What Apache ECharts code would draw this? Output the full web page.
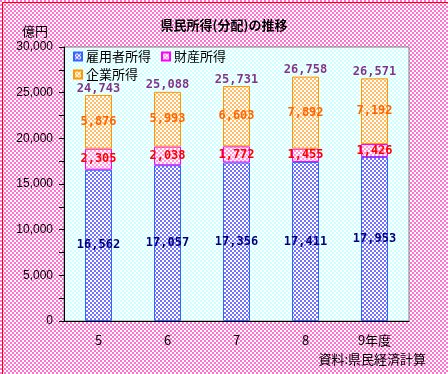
<!DOCTYPE html>
<html><head><meta charset="utf-8">
<script src="https://cdn.jsdelivr.net/npm/echarts@6/dist/echarts.min.js"></script>
<style>html,body{margin:0;padding:0;}#c{width:448px;height:374px;}</style>
</head><body><div id="c"></div>
<script>
const categories = ['5', '6', '7', '8', '9年度'];
const employeeIncome = [16562, 17057, 17356, 17411, 17953];
const propertyIncome = [2305, 2038, 1772, 1455, 1426];
const corporateIncome = [5876, 5993, 6603, 7892, 7192];
const totalIncome = [24743, 25088, 25731, 26758, 26571];
const seriesNames = ['雇用者所得', '財産所得', '企業所得'];

function pat(c1, c2, cell) {
  const cv = document.createElement('canvas');
  cv.width = cell * 2; cv.height = cell * 2;
  const g = cv.getContext('2d');
  g.fillStyle = c2; g.fillRect(0, 0, cell * 2, cell * 2);
  g.fillStyle = c1; g.fillRect(0, 0, cell, cell); g.fillRect(cell, cell, cell, cell);
  return { image: cv, repeat: 'repeat' };
}
const fmt = v => String(v).replace(/\B(?=(\d{3})+(?!\d))/g, ',');
const JP = '"Noto Sans CJK JP", sans-serif';
const NUM = '"DejaVu Sans Mono", monospace';

const chart = echarts.init(document.getElementById('c'), null, { renderer: 'canvas' });
function barSeries(name, data, c1, border, labelColor) {
  return {
    name, type: 'bar', stack: 'total', data, barWidth: 27,
    itemStyle: { color: pat(c1, '#ffffff', 2), borderColor: border, borderWidth: 1 },
    label: { show: true, position: 'inside', color: labelColor, fontFamily: NUM, fontWeight: 'bold', fontSize: 12, formatter: p => fmt(p.value) }
  };
}
chart.setOption({
  backgroundColor: pat('#ff70cf', '#ffffff', 2),
  animation: false,
  title: { text: '県民所得(分配)の推移', left: 'center', top: 14, textStyle: { fontFamily: JP, fontSize: 13, fontWeight: 'bold', color: '#000' } },
  legend: [
    { data: seriesNames.slice(0, 2), left: 68, top: 45, itemWidth: 8, itemHeight: 8, itemGap: 10, icon: 'rect',
      textStyle: { fontFamily: JP, fontSize: 13, color: '#000', padding: [0, 0, 0, -1] } },
    { data: seriesNames.slice(2), left: 68, top: 63, itemWidth: 8, itemHeight: 8, itemGap: 10, icon: 'rect',
      textStyle: { fontFamily: JP, fontSize: 13, color: '#000', padding: [0, 0, 0, -1] } }
  ],
  grid: { left: 64, right: 39, top: 47, bottom: 53, show: true, backgroundColor: pat('#ccffff', '#ffffff', 2), borderColor: '#808080', borderWidth: 1 },
  xAxis: {
    type: 'category', data: categories,
    axisLine: { lineStyle: { color: '#000', width: 1 } },
    axisTick: { show: false },
    axisLabel: { fontFamily: JP, fontSize: 13, color: '#000', margin: 13 }
  },
  yAxis: {
    type: 'value', min: 0, max: 30000, interval: 2500,
    axisLine: { show: true, lineStyle: { color: '#000', width: 1 } },
    axisTick: { show: true, length: 5, lineStyle: { color: '#000' } },
    splitLine: { show: false },
    axisLabel: { fontFamily: '"Liberation Sans", sans-serif', fontSize: 12, color: '#000', margin: 11,
      formatter: v => (v % 5000 === 0 ? fmt(v) : '') }
  },
  graphic: [
    { type: 'text', left: 22, top: 25, style: { text: '億円', font: '13px ' + JP, fill: '#000' } },
    { type: 'text', right: 22, top: 353, style: { text: '資料:県民経済計算', font: '13px ' + JP, fill: '#000' } },
    { type: 'rect', left: 0, top: 0, z: 100, shape: { x: 0, y: 0, width: 447, height: 373 },
      style: { fill: 'none', stroke: '#ff0000', lineWidth: 1 }, silent: true }
  ],
  series: [
    barSeries(seriesNames[0], employeeIncome, '#7373ff', '#3366ff', '#000080'),
    barSeries(seriesNames[1], propertyIncome, '#ff99dd', '#ff00ff', '#ff0000'),
    barSeries(seriesNames[2], corporateIncome, '#ffbb66', '#ff9900', '#ff6600'),
    { name: 'total', type: 'scatter', data: totalIncome, symbolSize: 1, itemStyle: { color: 'rgba(0,0,0,0)' },
      label: { show: true, position: 'top', distance: 0, color: '#660066', fontFamily: NUM, fontWeight: 'bold', fontSize: 12, formatter: p => fmt(p.value) } }
  ]
});
</script></body></html>
